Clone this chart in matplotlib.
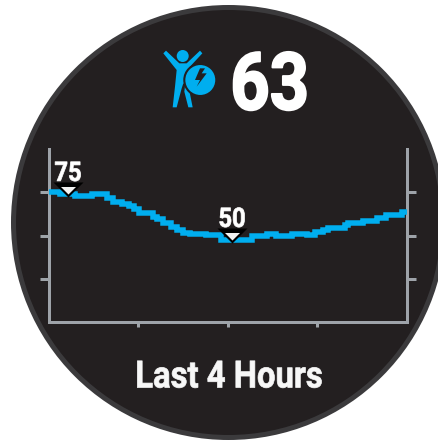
import matplotlib
matplotlib.use("Agg")
from matplotlib import pyplot as plt
from matplotlib.patches import Circle, Polygon
from matplotlib.patheffects import AbstractPathEffect
from matplotlib.transforms import Affine2D

# hours since start of window, one edge more than values
time_edges = [0, 0.126, 0.294, 0.48, 0.654, 0.721, 0.814, 0.90, 0.952, 1.012, 1.16,
              1.205, 1.279, 1.361, 1.428, 1.503, 1.577, 1.752, 1.919, 2.266, 2.44,
              2.537, 2.712, 2.886, 2.972, 3.065, 3.121, 3.307, 3.344, 3.512, 3.668,
              3.761, 3.939, 4.0]
stress = [75.0, 73.8, 73.0, 74.0, 71.5, 69.6, 68.2, 67.2, 65.5, 63.0, 60.9,
          59.3, 57.0, 54.7, 53.2, 51.6, 50.9, 50.3, 47.4, 49.9, 51.1,
          49.9, 51.1, 50.3, 51.8, 53.0, 54.1, 56.1, 57.4, 58.6, 60.1,
          61.8, 63.4]
marker_times = [0.215, 2.046]
marker_levels = [72.3, 45.7]
marker_labels = ["75", "50"]
current_value = "63"
caption = "Last 4 Hours"
y_ticks = [25, 50, 75]
x_ticks = [1, 2, 3]

W, H = 439, 441
FACE = "#231f20"
BEZEL = "#3b3a3c"
BLUE = "#00aeef"
GRAY = "#9ea3a9"
FONT = ["Roboto", "DejaVu Sans"]
PX = 72 / 100  # points per pixel at dpi 100


class Squeeze(AbstractPathEffect):
    # no condensed font here, so narrow the glyphs around a centre x and thicken them a bit
    def __init__(self, sx, cx, stroke):
        super().__init__()
        self.sx = sx
        self.cx = cx
        self.stroke = stroke

    def draw_path(self, renderer, gc, tpath, affine, rgbFace=None):
        squeeze = Affine2D().translate(-self.cx, 0).scale(self.sx, 1).translate(self.cx, 0)
        gc0 = renderer.new_gc()
        gc0.copy_properties(gc)
        gc0.set_foreground(rgbFace)
        gc0.set_linewidth(self.stroke)
        renderer.draw_path(gc0, tpath, affine + squeeze, rgbFace)
        gc0.restore()


fig = plt.figure(figsize=(W / 100, H / 100), dpi=100, facecolor="white")

# watch face, drawn in pixel coordinates
bg = fig.add_axes([0, 0, 1, 1])
bg.set_xlim(0, W)
bg.set_ylim(H, 0)
bg.axis("off")
bg.add_patch(Circle((228.5, 222.5), 217.5, fc=BEZEL, ec="none"))
bg.add_patch(Circle((228.5, 222.5), 212.5, fc=FACE, ec="none"))


def icon_xy(points):
    return [(150 + x / 3, 30 + y / 3) for x, y in points]


person = [(48, 62), (88, 100), (110, 100), (150, 62), (157, 70), (118, 112), (108, 140),
          (103, 185), (115, 232), (128, 232), (116, 172), (100, 160), (95, 175),
          (80, 232), (68, 232), (75, 170), (80, 120), (40, 70)]
bolt = [(150, 115), (135, 150), (150, 150), (140, 170), (170, 130), (155, 130), (165, 115)]
bg.add_patch(Polygon(icon_xy(person), closed=True, fc=BLUE, ec="none"))
bg.add_patch(Circle((182.7, 56), 6, fc=BLUE, ec="none"))
bg.add_patch(Circle((200.3, 80), 16, fc=BLUE, ec=FACE, lw=1.5))
bg.add_patch(Polygon(icon_xy(bolt), closed=True, fc=FACE, ec="none"))

bg.text(269.7, 109.5, current_value, color="white", family=FONT, weight="bold",
        fontsize=57.5, ha="center", va="baseline", path_effects=[Squeeze(0.86, 269.7, 1.4)])
bg.text(229, 387.5, caption, color="#f7f7f7", family=FONT, weight="bold",
        fontsize=27, ha="center", va="baseline", path_effects=[Squeeze(0.875, 229, 0.5)])

# chart
ax = fig.add_axes([48.7 / W, (H - 322) / H, 358.3 / W, 173 / H])
ax.patch.set_alpha(0)
ax.set_xlim(0, 4)
ax.set_ylim(0, 100)
ax.stairs(stress, time_edges, color=BLUE, lw=5.5 * PX, baseline=None, zorder=3,
          joinstyle="miter", capstyle="butt")

ax.spines["top"].set_visible(False)
for side in ["left", "right", "bottom"]:
    ax.spines[side].set_color(GRAY)
    ax.spines[side].set_linewidth(3 * PX)
ax.set_xticks(x_ticks)
ax.set_yticks(y_ticks)
ax.tick_params(axis="y", left=True, right=True, labelleft=False, length=9 * PX,
               width=3 * PX, color=GRAY)
ax.tick_params(axis="x", labelbottom=False, length=5 * PX, width=3 * PX, color=GRAY)

tri = [(-1, 1), (1, 1), (0, 0)]
for t, lvl, lab in zip(marker_times, marker_levels, marker_labels):
    ax.plot([t], [lvl], marker=tri, ms=30 * PX, mfc="black", mec="none", zorder=4, clip_on=False)
    ax.plot([t], [lvl + 3 / 1.73], marker=tri, ms=15 * PX, mfc="#f2f2f2", mec="none", zorder=5)
    cx = ax.transData.transform((t, lvl))[0]
    ax.annotate(lab, (t, lvl), xytext=(0, 16 * PX), textcoords="offset points", color="white",
                family=FONT, weight="bold", fontsize=19.4, ha="center", va="baseline", zorder=6,
                path_effects=[Squeeze(0.88, cx, 0.5)])

fig.savefig("out.png", dpi=100, facecolor="white")
